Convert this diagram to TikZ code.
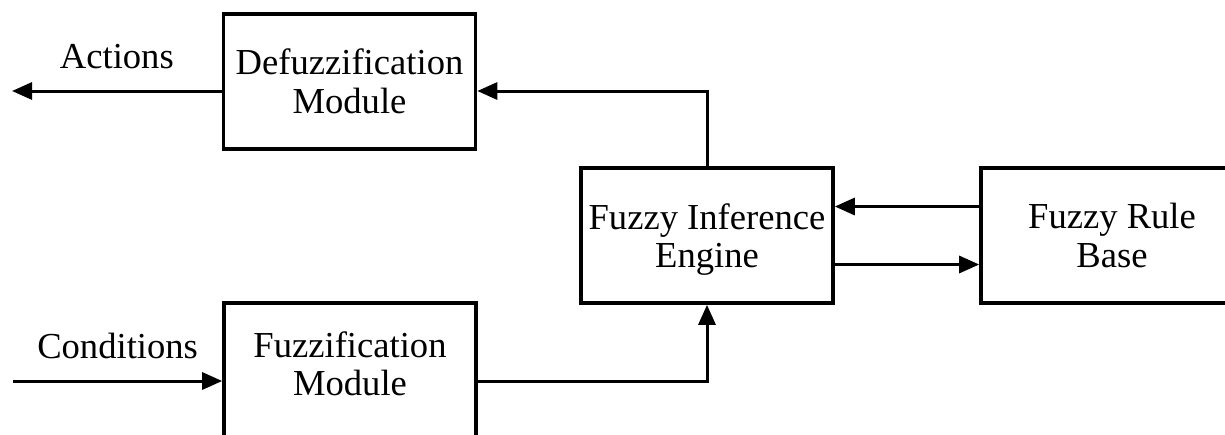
\documentclass[tikz,border=0pt]{standalone}
\usepackage{fontspec}
\setmainfont{Liberation Serif}
\usetikzlibrary{arrows.meta}

\begin{document}
\begin{tikzpicture}[> = {Triangle[length = 10pt, width = 8.5pt]}, x = 0.5pt, y = -0.5pt,
	module/.style = {draw, line width = 1.8pt, align = center, minimum width = 126pt, minimum height = 67.5pt, font = \fontsize{18.3}{19.25}\selectfont},
	flow/.style = {->, line width = 1.5pt},
	signal/.style = {font = \fontsize{18.3}{19.25}\selectfont}]

	% Definitions
	
	\def\shiftDefuzz{-4.75pt}	% Arrow level below the box centre
	\def\shiftFuzz{-5.25pt}
	\def\shiftLink{14.5pt}		% Offset of the two links to the rule base
	
	% Frame
	
	\clip (0, 0) rectangle (1225, 434);
	
	% Modules
	
	\node [module] (defuzz) at (349.5, 81.5) {Defuzzification\\Module};
	\node [module, text depth = 0pt] (engine) at (707, 235.5) {Fuzzy Inference\\Engine};
	\node [module, minimum width = 131pt] (rules) at (1112, 235.5) {Fuzzy Rule\\Base};
	\node [module, text depth = 6.8pt] (fuzz) at (350, 370.5) {Fuzzification\\Module};
	
	% Free ends
	
	\coordinate (actionsEnd) at (12, 91);
	\coordinate (conditionsStart) at (13, 381);
	
	% Outputs and inputs
	
	\draw [flow] ([yshift = \shiftDefuzz] defuzz.west) -- node [midway, above = 7pt, signal] {Actions} (actionsEnd);
	\draw [flow] (conditionsStart) -- node [midway, above = 7pt, signal] {Conditions} ([yshift = \shiftFuzz] fuzz.west);
	
	% Links between modules
	
	\draw [flow] ([yshift = \shiftFuzz] fuzz.east) -| (engine.south);
	\draw [flow] (engine.north) |- ([yshift = \shiftDefuzz] defuzz.east);
	\draw [flow] ([yshift = \shiftLink] rules.west) -- ([yshift = \shiftLink] engine.east);
	\draw [flow] ([yshift = -\shiftLink] engine.east) -- ([yshift = -\shiftLink] rules.west);

\end{tikzpicture}
\end{document}
